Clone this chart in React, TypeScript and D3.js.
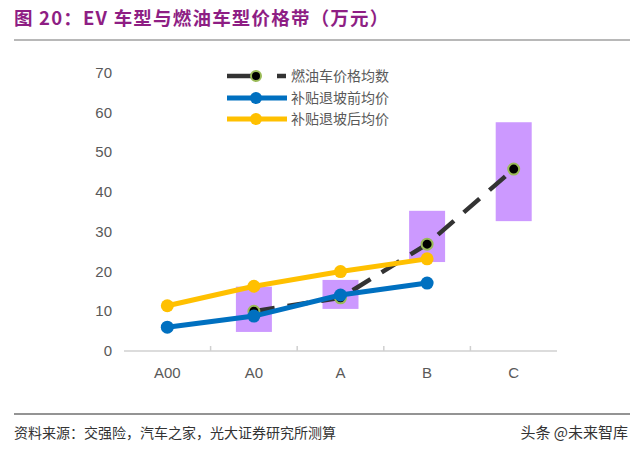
import React, { useEffect, useRef } from 'react';
import * as d3 from 'd3';

const categories = ['A00', 'A0', 'A', 'B', 'C'];
const afterSubsidy = [11.4, 16.3, 20.0, 23.2];
const beforeSubsidy = [6.0, 8.8, 14.1, 17.1];
const fuelAvg: Array<number | null> = [null, 10.0, 13.4, 26.9, 45.8];
const bandLow: Array<number | null> = [null, 4.8, 10.6, 22.4, 32.7];
const bandHigh: Array<number | null> = [null, 16.2, 17.9, 35.3, 57.6];
const yTicks = [0, 10, 20, 30, 40, 50, 60, 70];
const legendNames = ['燃油车价格均数', '补贴退坡前均价', '补贴退坡后均价'];

const W = 640;
const H = 451;
const CN = '"Noto Sans CJK SC", "Liberation Sans", sans-serif';
const NUM = '"Liberation Sans", Arial, sans-serif';

const App: React.FC = () => {
  const svgRef = useRef<SVGSVGElement>(null);

  useEffect(() => {
    const svg = d3.select(svgRef.current);
    svg.selectAll('*').remove();

    const x = d3.scaleBand().domain(categories).range([124, 557]);
    const y = d3.scaleLinear().domain([0, 70]).range([351, 73]);
    const cx = (c: string) => (x(c) ?? 0) + x.bandwidth() / 2;

    // Title
    svg.append('text')
      .attr('x', 14).attr('y', 25)
      .attr('fill', '#8E1E84')
      .style('font-family', CN)
      .style('font-size', '18.5px')
      .style('font-weight', 'bold')
      .style('letter-spacing', '1.2px')
      .text('图 20：EV 车型与燃油车型价格带（万元）');
    svg.append('line')
      .attr('x1', 14).attr('x2', 630).attr('y1', 40).attr('y2', 40)
      .attr('stroke', '#a0a0a0').attr('stroke-width', 1.5);

    // Y tick labels
    svg.append('g')
      .selectAll('text')
      .data(yTicks)
      .join('text')
      .attr('x', 112)
      .attr('y', d => y(d) + 5)
      .attr('text-anchor', 'end')
      .attr('fill', '#595959')
      .style('font-family', NUM)
      .style('font-size', '15px')
      .text(d => d);

    // X axis
    const ax = svg.append('g');
    ax.append('line')
      .attr('x1', 124).attr('x2', 557).attr('y1', y(0)).attr('y2', y(0))
      .attr('stroke', '#d0d0d0').attr('stroke-width', 1.5);
    ax.selectAll('line.tick')
      .data(categories.slice(1))
      .join('line')
      .attr('class', 'tick')
      .attr('x1', d => x(d) ?? 0).attr('x2', d => x(d) ?? 0)
      .attr('y1', y(0)).attr('y2', y(0) - 5)
      .attr('stroke', '#d0d0d0').attr('stroke-width', 1.5);
    ax.selectAll('text')
      .data(categories)
      .join('text')
      .attr('x', d => cx(d))
      .attr('y', 378)
      .attr('text-anchor', 'middle')
      .attr('fill', '#595959')
      .style('font-family', NUM)
      .style('font-size', '15px')
      .text(d => d);

    // Price bands
    const bw = 36;
    svg.append('g')
      .selectAll('rect')
      .data(categories.map((c, i) => ({ c, lo: bandLow[i], hi: bandHigh[i] })).filter(d => d.lo !== null))
      .join('rect')
      .attr('x', d => cx(d.c) - bw / 2)
      .attr('width', bw)
      .attr('y', d => y(d.hi as number))
      .attr('height', d => y(d.lo as number) - y(d.hi as number))
      .attr('fill', '#CC99FF');

    const line = d3.line<{ c: string; v: number }>()
      .x(d => cx(d.c))
      .y(d => y(d.v));

    // Fuel average (dashed)
    const fuelPts = categories
      .map((c, i) => ({ c, v: fuelAvg[i] }))
      .filter(d => d.v !== null) as { c: string; v: number }[];
    svg.append('path')
      .attr('d', line(fuelPts))
      .attr('fill', 'none')
      .attr('stroke', '#333333')
      .attr('stroke-width', 4.5)
      .attr('stroke-dasharray', '21 13');
    svg.append('g')
      .selectAll('circle')
      .data(fuelPts)
      .join('circle')
      .attr('cx', d => cx(d.c)).attr('cy', d => y(d.v))
      .attr('r', 5.5)
      .attr('fill', '#000')
      .attr('stroke', '#9BBB59')
      .attr('stroke-width', 2);

    const drawSeries = (vals: number[], color: string) => {
      const pts = vals.map((v, i) => ({ c: categories[i], v }));
      svg.append('path')
        .attr('d', line(pts))
        .attr('fill', 'none')
        .attr('stroke', color)
        .attr('stroke-width', 5);
      svg.append('g')
        .selectAll('circle')
        .data(pts)
        .join('circle')
        .attr('cx', d => cx(d.c)).attr('cy', d => y(d.v))
        .attr('r', 6.5)
        .attr('fill', color);
    };
    drawSeries(afterSubsidy, '#FFC000');
    drawSeries(beforeSubsidy, '#0070C0');

    // Legend
    const lg = svg.append('g');
    const rows = [76, 98, 119];
    lg.append('line')
      .attr('x1', 227).attr('x2', 257).attr('y1', rows[0]).attr('y2', rows[0])
      .attr('stroke', '#333333').attr('stroke-width', 4.5);
    lg.append('line')
      .attr('x1', 277).attr('x2', 286).attr('y1', rows[0]).attr('y2', rows[0])
      .attr('stroke', '#333333').attr('stroke-width', 4.5);
    lg.append('circle')
      .attr('cx', 256).attr('cy', rows[0]).attr('r', 5)
      .attr('fill', '#000').attr('stroke', '#9BBB59').attr('stroke-width', 2);
    [['#0070C0', rows[1]], ['#FFC000', rows[2]]].forEach(([c, ry]) => {
      lg.append('line')
        .attr('x1', 227).attr('x2', 287).attr('y1', ry).attr('y2', ry)
        .attr('stroke', c as string).attr('stroke-width', 5);
      lg.append('circle')
        .attr('cx', 256).attr('cy', ry).attr('r', 6)
        .attr('fill', c as string);
    });
    lg.selectAll('text')
      .data(legendNames)
      .join('text')
      .attr('x', 291)
      .attr('y', (_, i) => rows[i] + 5)
      .attr('fill', '#595959')
      .style('font-family', CN)
      .style('font-size', '14px')
      .text(d => d);

    // Footer
    svg.append('line')
      .attr('x1', 14).attr('x2', 630).attr('y1', 414).attr('y2', 414)
      .attr('stroke', '#707070').attr('stroke-width', 1.5);
    svg.append('text')
      .attr('x', 14).attr('y', 438)
      .attr('fill', '#333')
      .style('font-family', CN)
      .style('font-size', '14px')
      .text('资料来源：交强险，汽车之家，光大证券研究所测算');
    svg.append('text')
      .attr('x', 628).attr('y', 438)
      .attr('text-anchor', 'end')
      .attr('fill', '#333')
      .style('font-family', CN)
      .style('font-size', '15px')
      .text('头条 @未来智库');
  }, []);

  return (
    <svg
      ref={svgRef}
      width={W}
      height={H}
      style={{ position: 'absolute', left: 0, top: 0, background: '#fff' }}
    />
  );
};

export default App;
